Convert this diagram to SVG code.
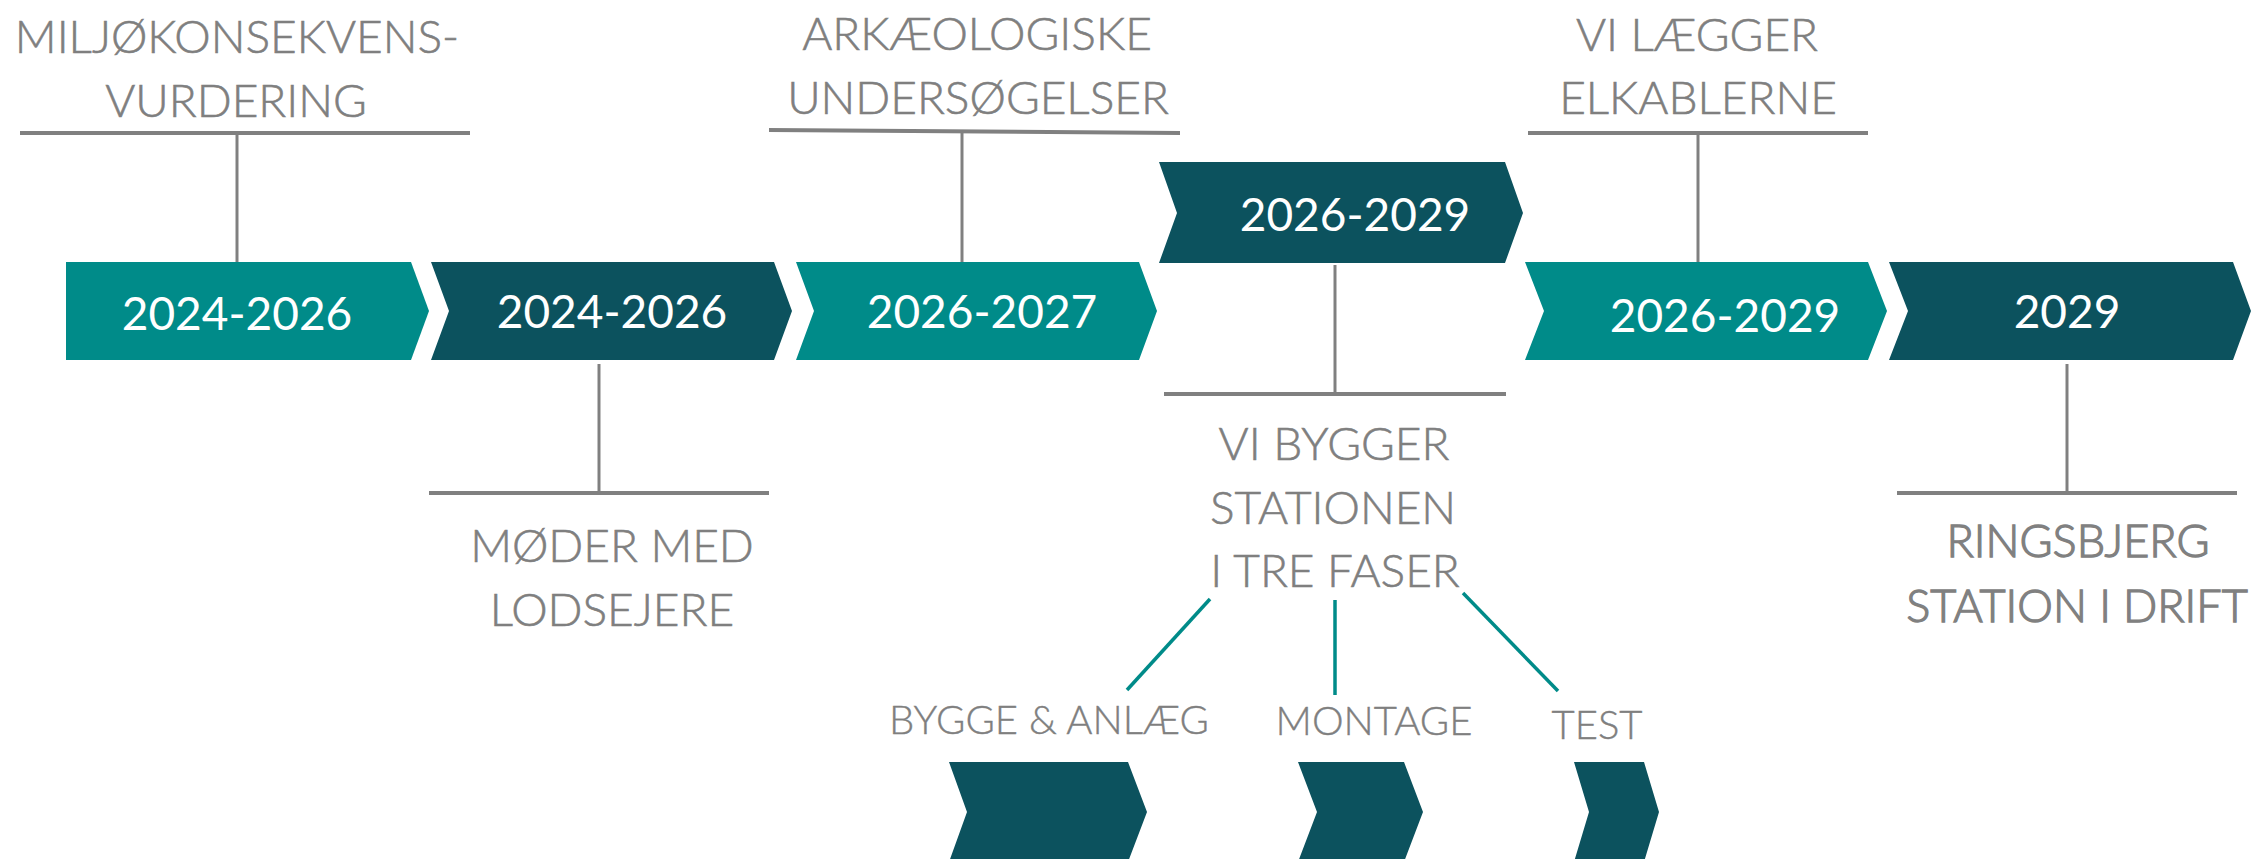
<svg xmlns="http://www.w3.org/2000/svg" width="2254" height="859" viewBox="0 0 2254 859">
<style>
.teal{fill:#008B89}
.dark{fill:#0C525E}
.yr{font-family:Lato,"Liberation Sans",sans-serif;font-size:46px;fill:#ffffff;text-anchor:middle}
.lbl{font-family:Lato,"Liberation Sans",sans-serif;font-weight:300;font-size:46px;fill:#7F7F7F;stroke:#7F7F7F;stroke-width:0.6;text-anchor:middle}
.lblr{font-family:Lato,"Liberation Sans",sans-serif;font-weight:300;font-size:45px;fill:#808080;stroke:#808080;stroke-width:1.3;text-anchor:middle}
.sub{font-family:Lato,"Liberation Sans",sans-serif;font-weight:300;font-size:40px;fill:#7F7F7F;stroke:#7F7F7F;stroke-width:0.4;text-anchor:middle}
.g{stroke:#808080;fill:none}
.h{stroke-width:4}
.v{stroke-width:3}
.t{stroke:#008B89;stroke-width:3.5;fill:none}
</style>
<rect width="2254" height="859" fill="#ffffff"/>
<g id="connectors">
<line class="g h" x1="20" y1="133" x2="470" y2="133"/>
<line class="g v" x1="237" y1="133" x2="237" y2="262"/>
<line class="g h" x1="769" y1="130" x2="1180" y2="133"/>
<line class="g v" x1="962" y1="132" x2="962" y2="262"/>
<line class="g h" x1="1528" y1="133" x2="1868" y2="133"/>
<line class="g v" x1="1698" y1="133" x2="1698" y2="262"/>
<line class="g v" x1="599" y1="364" x2="599" y2="493"/>
<line class="g h" x1="429" y1="493" x2="769" y2="493"/>
<line class="g v" x1="1335" y1="265" x2="1335" y2="394"/>
<line class="g h" x1="1164" y1="394" x2="1506" y2="394"/>
<line class="g v" x1="2067" y1="364" x2="2067" y2="493"/>
<line class="g h" x1="1897" y1="493" x2="2237" y2="493"/>
<line class="t" x1="1210" y1="599" x2="1127" y2="690"/>
<line class="t" x1="1335" y1="600" x2="1335" y2="695"/>
<line class="t" x1="1463" y1="593" x2="1558" y2="691"/>
</g>
<g id="step1">
<path class="teal" d="M66,262 L411,262 L429,311 L411,360 L66,360 Z"/>
<text class="yr" x="237" y="330">2024-2026</text>
</g>
<g id="step2">
<path class="dark" d="M431,262 L774,262 L792,311 L774,360 L431,360 L449,311 Z"/>
<text class="yr" x="612" y="328">2024-2026</text>
</g>
<g id="step3">
<path class="teal" d="M796,262 L1139,262 L1157,311 L1139,360 L796,360 L814,311 Z"/>
<text class="yr" x="982" y="328">2026-2027</text>
</g>
<g id="step4">
<path class="dark" d="M1159,162 L1505,162 L1523,213 L1505,263 L1159,263 L1177,213 Z"/>
<text class="yr" x="1355" y="231">2026-2029</text>
</g>
<g id="step5">
<path class="teal" d="M1525,262 L1868,262 L1887,311 L1868,360 L1525,360 L1544,311 Z"/>
<text class="yr" x="1725" y="332">2026-2029</text>
</g>
<g id="step6">
<path class="dark" d="M1889,262 L2233,262 L2251,311 L2233,360 L1889,360 L1908,311 Z"/>
<text class="yr" x="2067" y="328">2029</text>
</g>
<g id="label-miljo">
<text class="lbl" x="237" y="53">MILJØKONSEKVENS-</text>
<text class="lbl" x="236" y="117">VURDERING</text>
</g>
<g id="label-ark">
<text class="lbl" x="977" y="50">ARKÆOLOGISKE</text>
<text class="lbl" x="978" y="114">UNDERSØGELSER</text>
</g>
<g id="label-kabler">
<text class="lbl" x="1697" y="51">VI LÆGGER</text>
<text class="lbl" x="1698" y="114">ELKABLERNE</text>
</g>
<g id="label-moder">
<text class="lbl" x="612" y="562">MØDER MED</text>
<text class="lbl" x="612" y="626">LODSEJERE</text>
</g>
<g id="label-bygger">
<text class="lbl" x="1334" y="460">VI BYGGER</text>
<text class="lbl" x="1333" y="524">STATIONEN</text>
<text class="lbl" x="1335" y="587">I TRE FASER</text>
</g>
<g id="label-drift">
<text class="lblr" x="2078" y="557">RINGSBJERG</text>
<text class="lblr" x="2077" y="622">STATION I DRIFT</text>
</g>
<g id="phase1">
<text class="sub" x="1049" y="734">BYGGE &amp; ANLÆG</text>
<path class="dark" d="M949,762 L1128,762 L1147,812 L1128,862 L949,862 L967,812 Z"/>
</g>
<g id="phase2">
<text class="sub" x="1374" y="735">MONTAGE</text>
<path class="dark" d="M1298,762 L1404,762 L1423,812 L1404,862 L1298,862 L1317,812 Z"/>
</g>
<g id="phase3">
<text class="sub" x="1597" y="739">TEST</text>
<path class="dark" d="M1574,762 L1644,762 L1659,812 L1644,862 L1574,862 L1589,812 Z"/>
</g>
</svg>
